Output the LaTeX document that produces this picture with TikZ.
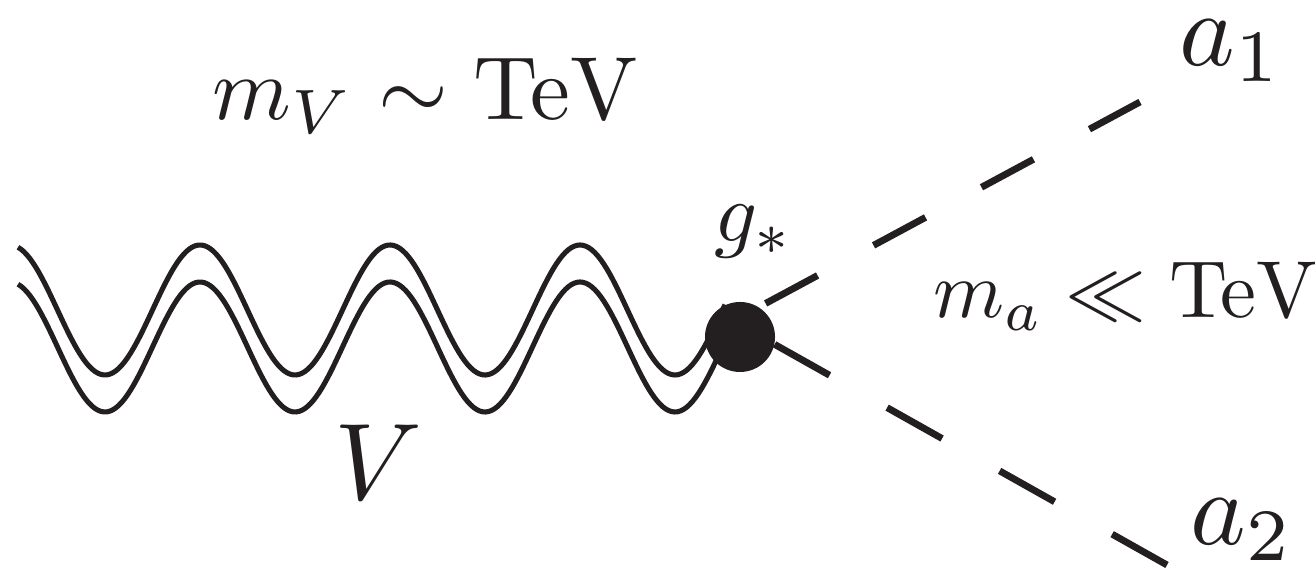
\documentclass[tikz,border=0pt]{standalone}
\definecolor{ink}{RGB}{35,31,32}
\begin{document}
\begin{tikzpicture}[x=0.01cm,y=-0.01cm,
  wave/.style={ink,line width=1.45pt},
  scalar/.style={ink,line width=1.95pt},
  lbl/.style={anchor=base,inner sep=0pt,text=ink}]
  \useasboundingbox (0,0) rectangle (1315,568);
  \coordinate (o) at (733,321);
  \coordinate (e1) at (1140,102);
  \coordinate (e2) at (1167,565);
  % double wavy line for V
  \draw[wave] plot[domain=18:725,samples=240] (\x,{310-65*cos(1.894737*(\x-10))});
  \draw[wave] plot[domain=18:725,samples=240] (\x,{347-65*cos(1.894737*(\x-10))});
  % scalar legs
  \draw[scalar,dash pattern=on 0.59cm off 0.635cm,dash phase=0.855cm] (o) -- (e1);
  \draw[scalar,dash pattern=on 0.63cm off 0.66cm,dash phase=0.813cm] (o) -- (e2);
  % vertex
  \node[circle,fill=ink,minimum size=0.7cm,inner sep=0pt] (vtx) at (740,337) {};
  % labels
  \node[lbl,scale=2.55] (mV) at (426,120) {$m_V\sim\mathrm{TeV}$};
  \node[lbl,scale=2.4] (gs) at (754,242) {$g_*$};
  \node[lbl,scale=2.3] (ma) at (1126,318) {$m_a\ll\mathrm{TeV}$};
  \node[lbl,scale=3.1] (V) at (378,500) {$V$};
  \node[lbl,scale=3.0] (a1) at (1231,66) {$a_1$};
  \node[lbl,scale=3.0] (a2) at (1242,545) {$a_2$};
\end{tikzpicture}
\end{document}
